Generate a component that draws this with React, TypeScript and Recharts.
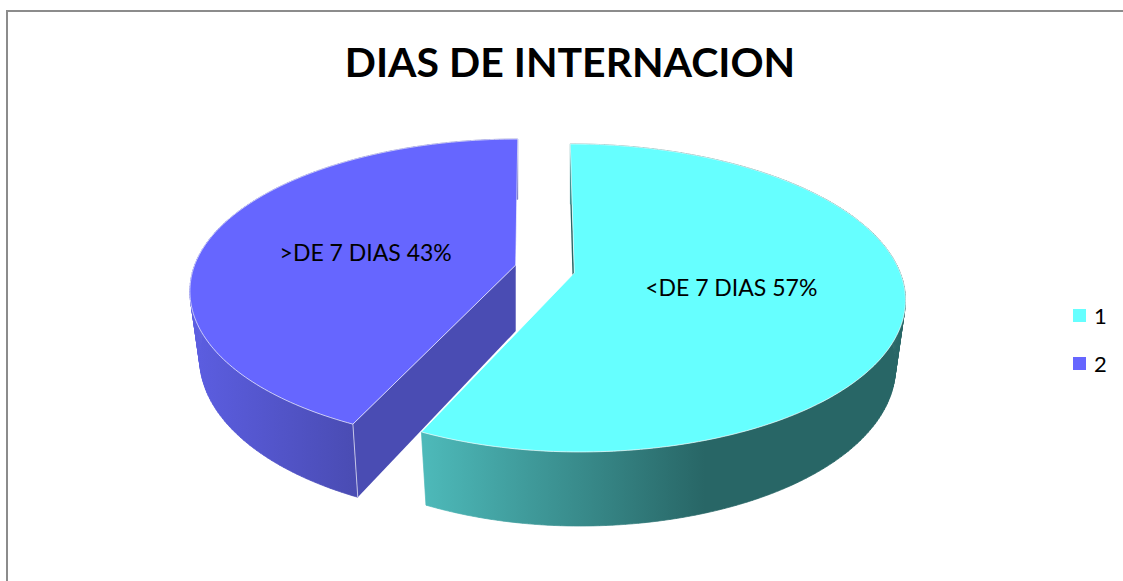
import { PieChart, Pie, Legend } from "recharts";

// 3D exploded pie, Recharts only supplies the angles, the shape projects them
const categories = ["1", "2"];
const values = [57, 43];
const sliceLabels = ["<DE 7 DIAS 57%", ">DE 7 DIAS 43%"];
const topColors = ["#66FFFF", "#6666FF"];
const wallGradients = ["url(#wallCyan)", "url(#wallPurple)"];
const cutColors = ["#286666", "#4A4CB3"];

const data = categories.map((name, i) => ({ name, value: values[i], fill: topColors[i] }));

// small per-slice corrections for the original's 3D camera
const leans = [0.031, -0.016];
const leftScale = [0.97, 0.985];
const farScale = [1, 0.977];
const labelShift = [[-3, -2], [-1, 2]];

const FONT = "Lato, Carlito, sans-serif";
const PERSPECTIVE = 0.1624;
const SQUASH = 0.46;
const EXPLODE = 30;
const DEPTH = 66;
const BOTTOM_X = 0.97;
const BOTTOM_Y = 1.045;

const rad = (deg: number) => (deg * Math.PI) / 180;

// theta is clockwise from the top of the pie
function project(theta: number, r: number) {
  const w = -Math.cos(rad(theta));
  const d = 1 - PERSPECTIVE * w;
  return { x: (r * Math.sin(rad(theta))) / d, y: (r * SQUASH * w) / d };
}

function Slice3D(props: any) {
  const { cx, cy, outerRadius, startAngle, endAngle, midAngle, index } = props;
  const mid = 90 - midAngle;
  const ax = cx + EXPLODE * Math.sin(rad(mid));
  const ay = cy - EXPLODE * Math.cos(rad(mid)) * 0.6;
  const from = 90 - startAngle;
  const to = 90 - endAngle;

  const flat = (t: number) => {
    const p = project(t, outerRadius);
    const x = p.x < 0 ? p.x * leftScale[index] : p.x;
    const y = p.y < 0 ? p.y * farScale[index] : p.y;
    return { x: x + leans[index] * y, y };
  };
  const top = (t: number) => {
    const p = flat(t);
    return [ax + p.x, ay + p.y];
  };
  const bottom = (t: number) => {
    const p = flat(t);
    return [ax + p.x * BOTTOM_X, ay + DEPTH + p.y * BOTTOM_Y];
  };

  const steps: number[] = [];
  for (let t = from; t < to; t += 1) steps.push(t);
  steps.push(to);

  const toPath = (pts: number[][]) => "M" + pts.map((p) => `${p[0].toFixed(2)},${p[1].toFixed(2)}`).join("L") + "Z";

  // the wall is a strip of quads so the silhouette joins both rims
  const wallPath = steps
    .slice(0, -1)
    .map((t, i) => toPath([top(t), top(steps[i + 1]), bottom(steps[i + 1]), bottom(t)]))
    .join("");

  const cutWall = [[ax, ay], top(from), bottom(from), [ax, ay + DEPTH]];
  const edge = index === 1 ? [top(from), bottom(from)] : null;

  return (
    <g>
      <path d={toPath(cutWall)} fill={cutColors[index]} />
      <path d={wallPath} fill={wallGradients[index]} stroke={wallGradients[index]} strokeWidth={0.7} />
      {edge && (
        <line
          x1={edge[0][0]}
          y1={edge[0][1]}
          x2={edge[1][0]}
          y2={edge[1][1]}
          stroke="#FFFFFF"
          strokeOpacity={0.65}
          strokeWidth={1}
        />
      )}
      <path
        d={toPath([[ax, ay], ...steps.map(top)])}
        fill={topColors[index]}
        stroke="#FFFFFF"
        strokeOpacity={0.65}
        strokeWidth={1}
        strokeLinejoin="round"
      />
    </g>
  );
}

function renderSliceLabel(props: any) {
  const { cx, cy, outerRadius, midAngle, index } = props;
  const mid = 90 - midAngle;
  const ax = cx + EXPLODE * Math.sin(rad(mid));
  const ay = cy - EXPLODE * Math.cos(rad(mid)) * 0.6;
  const p = project(mid, outerRadius * 0.485);
  return (
    <text
      x={ax + p.x + labelShift[index][0]}
      y={ay + p.y + labelShift[index][1]}
      textAnchor="middle"
      dominantBaseline="central"
      fontFamily={FONT}
      fontSize={23}
      fill="#000000"
    >
      {sliceLabels[index]}
    </text>
  );
}

function renderLegend(props: any) {
  const items = props.payload || [];
  return (
    <div>
      {items.map((item: any, i: number) => (
        <div key={i} style={{ display: "flex", alignItems: "center", height: 48 }}>
          <span style={{ width: 13, height: 13, background: topColors[i], marginRight: 8, display: "block" }} />
          <span style={{ fontFamily: FONT, fontSize: 22, color: "#000000" }}>{item.value}</span>
        </div>
      ))}
    </div>
  );
}

export default function App() {
  return (
    <div style={{ position: "absolute", left: 0, top: 0, width: 1123, height: 581, background: "#FFFFFF", overflow: "hidden" }}>
      <div
        style={{
          position: "absolute",
          left: 6,
          top: 10,
          width: 1200,
          height: 700,
          borderLeft: "2px solid #8C8C8C",
          borderTop: "2px solid #8C8C8C",
        }}
      />
      <PieChart
        width={1123}
        height={581}
        margin={{ top: 0, right: 0, bottom: 0, left: 0 }}
        style={{ position: "absolute", left: 0, top: 0 }}
      >
        <defs>
          <linearGradient id="wallCyan" gradientUnits="userSpaceOnUse" x1="425" y1="0" x2="705" y2="0">
            <stop offset="0%" stopColor="#4DB9B9" />
            <stop offset="100%" stopColor="#286666" />
          </linearGradient>
          <linearGradient id="wallPurple" gradientUnits="userSpaceOnUse" x1="190" y1="0" x2="355" y2="0">
            <stop offset="0%" stopColor="#5C5EE2" />
            <stop offset="100%" stopColor="#4A4CB3" />
          </linearGradient>
        </defs>
        <text x={570} y={77} textAnchor="middle" fontFamily={FONT} fontWeight={700} fontSize={41} fill="#000000">
          DIAS DE INTERNACION
        </text>
        <Pie
          data={data}
          dataKey="value"
          nameKey="name"
          cx={545}
          cy={269}
          outerRadius={326}
          startAngle={90}
          endAngle={-270}
          stroke="none"
          shape={Slice3D}
          label={renderSliceLabel}
          labelLine={false}
          isAnimationActive={false}
        />
        <Legend
          layout="vertical"
          content={renderLegend}
          wrapperStyle={{ position: "absolute", left: 1073, top: 291, width: 50 }}
        />
      </PieChart>
    </div>
  );
}
